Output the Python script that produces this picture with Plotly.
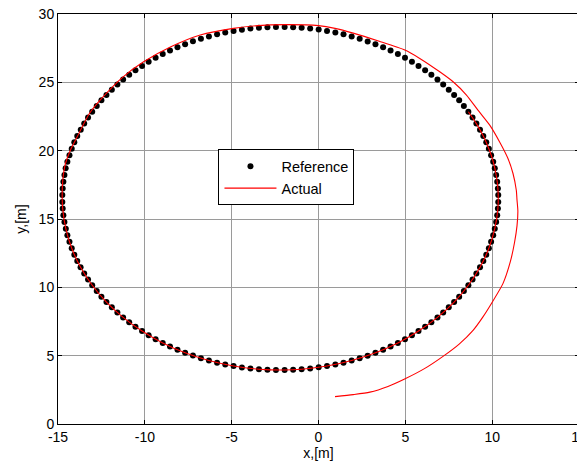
import plotly.graph_objects as go

# Reference trajectory (black dots)
ref_x = [
    10.35, 10.33, 10.29, 10.23, 10.15, 10.06, 9.94, 9.81, 9.66, 9.49, 9.30, 9.09, 8.87, 8.63, 8.37, 8.10, 7.81, 7.50, 7.18, 6.85,
    6.50, 6.14, 5.76, 5.38, 4.98, 4.57, 4.15, 3.72, 3.28, 2.83, 2.37, 1.91, 1.44, 0.97, 0.49, 0.01, -0.48, -0.97, -1.46, -1.95,
    -2.45, -2.94, -3.43, -3.92, -4.41, -4.89, -5.37, -5.84, -6.31, -6.77, -7.23, -7.68, -8.12, -8.55, -8.97, -9.38, -9.78, -10.16, -10.54, -10.90,
    -11.25, -11.58, -11.90, -12.21, -12.50, -12.77, -13.03, -13.27, -13.49, -13.69, -13.89, -14.06, -14.21, -14.34, -14.46, -14.56, -14.63, -14.69, -14.73, -14.75,
    -14.75, -14.73, -14.69, -14.63, -14.55, -14.46, -14.34, -14.21, -14.06, -13.89, -13.70, -13.49, -13.27, -13.03, -12.77, -12.50, -12.21, -11.90, -11.58, -11.25,
    -10.90, -10.54, -10.16, -9.78, -9.38, -8.97, -8.55, -8.12, -7.68, -7.23, -6.77, -6.31, -5.84, -5.37, -4.89, -4.41, -3.92, -3.43, -2.94, -2.45,
    -1.95, -1.46, -0.97, -0.48, 0.01, 0.49, 0.97, 1.44, 1.91, 2.37, 2.83, 3.28, 3.72, 4.15, 4.57, 4.98, 5.38, 5.76, 6.14, 6.50,
    6.85, 7.18, 7.50, 7.81, 8.10, 8.37, 8.63, 8.87, 9.09, 9.30, 9.49, 9.66, 9.81, 9.94, 10.06, 10.15, 10.23, 10.29, 10.33, 10.35,
]
ref_y = [
    16.75, 17.24, 17.73, 18.22, 18.71, 19.19, 19.67, 20.14, 20.61, 21.07, 21.53, 21.98, 22.42, 22.85, 23.27, 23.68, 24.08, 24.46, 24.84, 25.20,
    25.55, 25.88, 26.20, 26.51, 26.80, 27.07, 27.33, 27.57, 27.79, 27.99, 28.19, 28.36, 28.51, 28.64, 28.76, 28.86, 28.93, 28.99, 29.03, 29.05,
    29.05, 29.03, 28.99, 28.93, 28.85, 28.76, 28.64, 28.51, 28.36, 28.19, 28.00, 27.79, 27.57, 27.33, 27.07, 26.80, 26.51, 26.20, 25.88, 25.55,
    25.20, 24.84, 24.46, 24.08, 23.68, 23.27, 22.85, 22.42, 21.98, 21.53, 21.07, 20.61, 20.14, 19.67, 19.19, 18.71, 18.22, 17.73, 17.24, 16.75,
    16.25, 15.76, 15.27, 14.78, 14.29, 13.81, 13.33, 12.86, 12.39, 11.93, 11.47, 11.02, 10.58, 10.15, 9.73, 9.32, 8.92, 8.54, 8.16, 7.80,
    7.45, 7.12, 6.80, 6.49, 6.20, 5.93, 5.67, 5.43, 5.21, 5.01, 4.81, 4.64, 4.49, 4.36, 4.24, 4.14, 4.07, 4.01, 3.97, 3.95,
    3.95, 3.97, 4.01, 4.07, 4.15, 4.24, 4.36, 4.49, 4.64, 4.81, 5.00, 5.21, 5.43, 5.67, 5.93, 6.20, 6.49, 6.80, 7.12, 7.45,
    7.80, 8.16, 8.54, 8.92, 9.32, 9.73, 10.15, 10.58, 11.02, 11.47, 11.93, 12.39, 12.86, 13.33, 13.81, 14.29, 14.78, 15.27, 15.76, 16.25,
]

# Actual trajectory (red line)
act_x = [
    0.95, 2.00, 2.96, 4.00, 4.99, 6.10, 7.17, 8.10, 8.90, 9.45, 9.95, 10.62, 11.05, 11.29, 11.43, 11.48, 11.43, 11.39, 11.20,
    10.91, 10.43, 9.86, 9.18, 8.52, 7.75, 6.98, 5.83, 4.97, 3.50, 2.00, 0.95, 0.00, -1.93, -3.50, -4.90, -6.81, -8.50,
    -10.07, -11.30, -12.50, -13.20, -13.90, -14.30, -14.57, -14.72, -14.76,
    -14.73, -14.55, -14.21, -13.70, -13.03, -12.21, -11.25, -10.16, -8.97, -7.68, -6.31, -4.89, -3.43, -1.95,
    -0.97, 0.49, 1.91, 3.28, 4.57, 5.76, 6.85, 7.81, 8.63, 9.30, 9.81, 10.15, 10.33,
    10.33, 10.23, 10.06, 9.81, 9.49, 9.09, 8.63,
]
act_y = [
    2.00, 2.15, 2.33, 2.75, 3.31, 4.05, 4.95, 5.85, 6.85, 7.80, 8.80, 10.27, 11.90, 13.30, 14.50, 15.60, 16.40, 17.10, 18.33,
    19.43, 20.64, 21.87, 22.97, 24.07, 25.04, 25.77, 26.75, 27.36, 28.00, 28.60, 28.95, 29.15, 29.22, 29.15, 28.95, 28.46, 27.60,
    26.50, 25.35, 23.80, 22.70, 21.00, 20.00, 19.06, 17.90, 16.75,
    15.76, 14.29, 12.86, 11.47, 10.15, 8.92, 7.80, 6.80, 5.93, 5.21, 4.64, 4.24, 4.01, 3.95,
    4.01, 4.24, 4.64, 5.21, 5.93, 6.80, 7.80, 8.92, 10.15, 11.47, 12.86, 14.29, 15.76,
    17.24, 18.22, 19.19, 20.14, 21.07, 21.98, 22.85,
]

x_ticks = [-15, -10, -5, 0, 5, 10, 15]
y_ticks = [0, 5, 10, 15, 20, 25, 30]

FONT = "Liberation Sans, Arial, sans-serif"

fig = go.Figure()
fig.add_trace(go.Scatter(
    x=ref_x, y=ref_y, mode="markers", name="Reference",
    marker=dict(color="black", size=6, line=dict(width=0)),
))
fig.add_trace(go.Scatter(
    x=act_x, y=act_y, mode="lines", name="Actual",
    line=dict(color="#ff0000", width=1.1, shape="spline", smoothing=0.6),
))

axis_common = dict(
    showline=True, linecolor="black", linewidth=1, mirror="ticks",
    ticks="inside", ticklen=4, tickcolor="black", tickwidth=1,
    showgrid=True, gridcolor="#9a9a9a", gridwidth=1, zeroline=False,
    tickfont=dict(family=FONT, size=14, color="black"),
    ticklabeloverflow="allow",
    automargin=False,
)

fig.update_layout(
    width=585, height=470,
    margin=dict(l=50, r=14, t=6, b=54),
    paper_bgcolor="white", plot_bgcolor="white",
    font=dict(family=FONT, size=14, color="black"),
    xaxis=dict(range=[-15, 15], tickvals=x_ticks, ticktext=[str(v) for v in x_ticks],
               title=dict(text="x,[m]", font=dict(family=FONT, size=14), standoff=4),
               **axis_common),
    yaxis=dict(range=[0, 30], tickvals=y_ticks, ticktext=[str(v) for v in y_ticks],
               title=dict(text="y,[m]", font=dict(family=FONT, size=14), standoff=8),
               **axis_common),
    legend=dict(
        x=0.308, y=0.670, xanchor="left", yanchor="top",
        bgcolor="white", bordercolor="black", borderwidth=1,
        font=dict(family=FONT, size=14.5, color="black"),
        itemwidth=52, tracegroupgap=0,
    ),
    showlegend=True,
)

fig.write_html("out.html")
